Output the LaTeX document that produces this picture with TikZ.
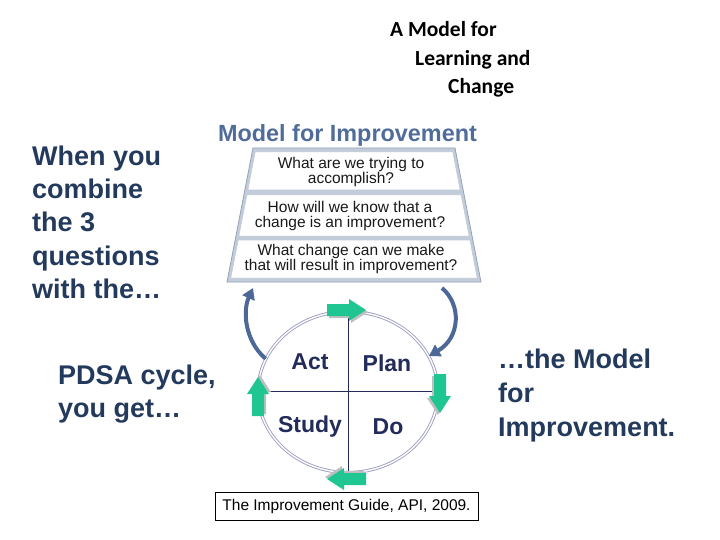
\documentclass[tikz,border=0pt]{standalone}
\usepackage{fontspec}
\setmainfont{Liberation Sans}
\newfontfamily\calibrifont{Carlito}
\usetikzlibrary{arrows.meta,shapes.geometric}
\definecolor{mfiNavy}{HTML}{233A5C}
\definecolor{mfiSteel}{HTML}{4F6C9A}
\definecolor{mfiFrame}{HTML}{C3CCDA}
\definecolor{mfiFrameEdge}{HTML}{95A2B8}
\definecolor{mfiRing}{HTML}{9C9EC2}
\definecolor{mfiInk}{HTML}{222B5A}
\definecolor{mfiArc}{HTML}{4D6896}
\definecolor{mfiGreen}{HTML}{20C691}
\tikzset{
  mfi side/.style={anchor=base west, inner sep=0pt, font=\fontsize{27}{33}\selectfont\bfseries, text=mfiNavy},
  mfi title/.style={anchor=base west, inner sep=0pt, font=\calibrifont\fontsize{21.5}{26}\selectfont\bfseries, text=black},
  mfi question/.style={align=center, inner sep=0pt, font=\fontsize{15.5}{15}\selectfont, text=black!90},
  mfi phase/.style={inner sep=0pt, font=\fontsize{23}{26}\selectfont\bfseries, text=mfiInk},
  mfi row/.style={fill=white, draw=mfiFrameEdge!60, line width=0.5pt},
  mfi arc/.style={draw=mfiArc, line width=4pt, -{Triangle[width=13pt,length=11pt]}},
  pics/mfi green/.style={code={
    \fill[black!25] (-17,-4) -- (5,-4) -- (5,-9) -- (22,2) -- (5,13) -- (5,8) -- (-17,8) -- cycle;
    \fill[mfiGreen] (-19,-6) -- (3,-6) -- (3,-11) -- (20,0) -- (3,11) -- (3,6) -- (-19,6) -- cycle;
  }},
}

\begin{document}
\begin{tikzpicture}[x=1pt, y=-1pt]
  \useasboundingbox (0,0) rectangle (720,540);

  % heading, top right
  \node[mfi title] (head1) at (390,37) {A Model for};
  \node[mfi title] (head2) at (415,66) {Learning and};
  \node[mfi title] (head3) at (448,94) {Change};

  % running text round the figure
  \foreach \t [count=\k] in {When you, combine, the 3, questions, with the…}
    \node[mfi side] (left\k) at (32, 133+33*\k) {\t};
  \node[mfi side] (pdsa1) at (58,384) {PDSA cycle,};
  \node[mfi side] (pdsa2) at (58,417) {you get…};
  \foreach \t [count=\k] in {…the Model, for, Improvement.}
    \node[mfi side] (right\k) at (498, 334+34*\k) {\t};

  % the three questions
  \node[anchor=base, inner sep=0pt, font=\fontsize{23.4}{26}\selectfont\bfseries, text=mfiSteel] (mfi) at (347.5,142) {Model for Improvement};
  \fill[mfiFrame, draw=mfiFrameEdge, line width=0.8pt] (253,148) -- (455,148) -- (481,282) -- (227,282) -- cycle;
  \path[mfi row] (255.2,152) -- (452.8,152) -- (460.1,190) -- (247.9,190) -- cycle;
  \path[mfi row] (246.9,195) -- (461.1,195) -- (469.1,236) -- (238.9,236) -- cycle;
  \path[mfi row] (238.2,240) -- (469.9,240) -- (477.2,278) -- (230.8,278) -- cycle;
  \node[mfi question] (ask1) at (351,172) {What are we trying to\\accomplish?};
  \node[mfi question] (ask2) at (350,216) {How will we know that a\\change is an improvement?};
  \node[mfi question] (ask3) at (351,259) {What change can we make\\that will result in improvement?};
  \coordinate (frameL) at (253,288);
  \coordinate (frameR) at (442,288);

  % PDSA cycle
  \node[ellipse, draw=mfiRing, line width=0.9pt, double=white, double distance=1.4pt,
        minimum width=180pt, minimum height=161pt, inner sep=0pt] (pdsa) at (348,392) {};
  \draw[mfiInk, line width=0.6pt] (pdsa.north) -- (pdsa.south);
  \draw[mfiInk, line width=0.6pt] ([xshift=7pt,yshift=1pt]pdsa.west) -- ([xshift=-1pt,yshift=1pt]pdsa.east);
  \node[mfi phase] (act) at (310,362) {Act};
  \node[mfi phase] (plan) at (387,363) {Plan};
  \node[mfi phase] (study) at (310,427) {Study};
  \node[mfi phase] (do) at (388,427) {Do};
  \pic at (346,310) {mfi green};
  \pic[rotate=-90] at (440,393) {mfi green};
  \pic[rotate=180] at (347,479) {mfi green};
  \pic[rotate=90] at (258,397) {mfi green};

  % links between cycle and questions
  \draw[mfi arc] (pdsa.158) .. controls (244,340) and (243,310) .. (frameL);
  \draw[mfi arc] (frameR) .. controls (462,305) and (460,338) .. (pdsa.24);

  % source
  \node[draw=black, line width=0.8pt, minimum width=263pt, minimum height=28pt, inner sep=0pt,
        font=\fontsize{15.5}{18}\selectfont] (source) at (346.5,506) {The Improvement Guide, API, 2009.};
\end{tikzpicture}
\end{document}
